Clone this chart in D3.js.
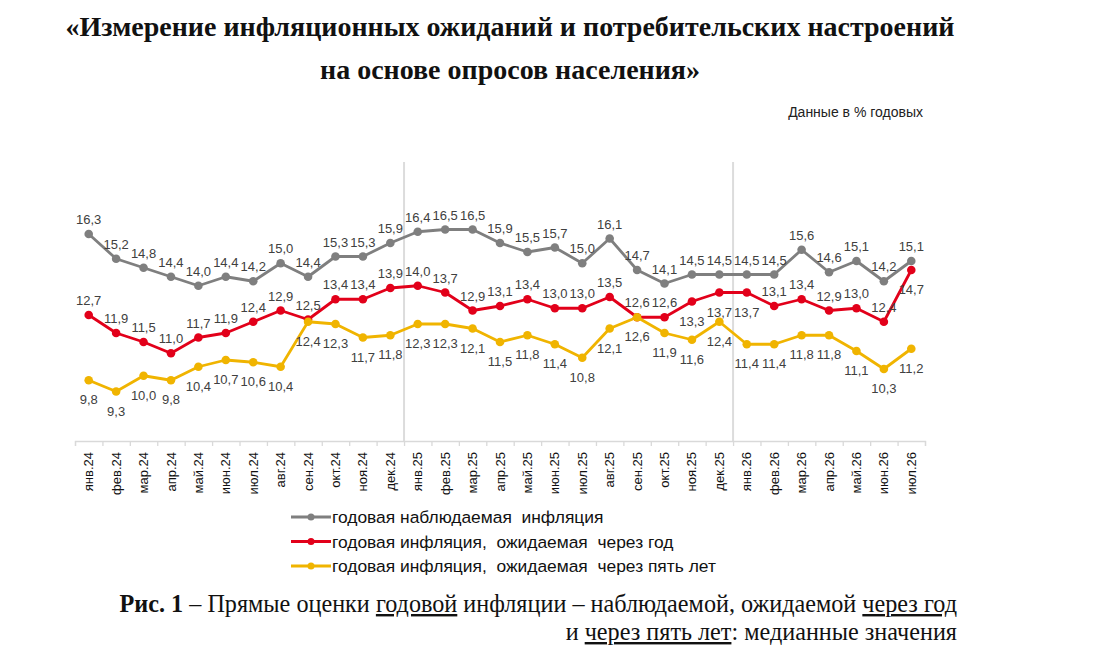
<!DOCTYPE html>
<html>
<head>
<meta charset="utf-8">
<script src="https://cdn.jsdelivr.net/npm/d3@7"></script>
<style>
body { margin: 0; background: #fff; }
</style>
</head>
<body>
<div class="holder"></div>
<script>
var months = ['янв.24','фев.24','мар.24','апр.24','май.24','июн.24','июл.24','авг.24','сен.24','окт.24','ноя.24','дек.24',
  'янв.25','фев.25','мар.25','апр.25','май.25','июн.25','июл.25','авг.25','сен.25','окт.25','ноя.25','дек.25',
  'янв.26','фев.26','мар.26','апр.26','май.26','июн.26','июл.26']

var observed = [16.3,15.2,14.8,14.4,14.0,14.4,14.2,15.0,14.4,15.3,15.3,15.9,16.4,16.5,16.5,15.9,15.5,15.7,15.0,16.1,14.7,14.1,14.5,14.5,14.5,14.5,15.6,14.6,15.1,14.2,15.1]
var oneYear = [12.7,11.9,11.5,11.0,11.7,11.9,12.4,12.9,12.5,13.4,13.4,13.9,14.0,13.7,12.9,13.1,13.4,13.0,13.0,13.5,12.6,12.6,13.3,13.7,13.7,13.1,13.4,12.9,13.0,12.4,14.7]
var fiveYears = [9.8,9.3,10.0,9.8,10.4,10.7,10.6,10.4,12.4,12.3,11.7,11.8,12.3,12.3,12.1,11.5,11.8,11.4,10.8,12.1,12.6,11.9,11.6,12.4,11.4,11.4,11.8,11.8,11.1,10.3,11.2]

// months where the red series label sits under the point
var oneYearBelow = ['ноя.25','дек.25','янв.26','июл.26']

var seriesNames = ['годовая наблюдаемая  инфляция', 'годовая инфляция,  ожидаемая  через год', 'годовая инфляция,  ожидаемая  через пять лет']
var colors = ['#7f7f7f', '#e2001a', '#f0b400']

var width = 1094, height = 658

var svg = d3.select('.holder').append('svg')
  .attr('width', width)
  .attr('height', height)
  .style('font-family', 'Arial, "Liberation Sans", sans-serif')

// title
var title = svg.append('text')
  .attr('text-anchor', 'middle')
  .style('font-family', '"Liberation Serif", "Times New Roman", serif')
  .style('font-weight', 'bold')
  .style('font-size', '28px')
  .attr('fill', '#111')
title.append('tspan').attr('x', 510).attr('y', 36).text('«Измерение инфляционных ожиданий и потребительских настроений')
title.append('tspan').attr('x', 510).attr('y', 79).text('на основе опросов населения»')

svg.append('text')
  .attr('x', 923).attr('y', 117)
  .attr('text-anchor', 'end')
  .style('font-size', '14px')
  .attr('fill', '#222')
  .text('Данные в % годовых')

var x = d3.scaleBand()
  .domain(months)
  .range([75, 925])
  .padding(0)

var xb = d3.scaleLinear()
  .domain([0, months.length])
  .range([75, 925])

var y = d3.scaleLinear()
  .domain([7.1, 19.5])
  .range([441, 162])

function cx(m) { return x(m) + x.bandwidth() / 2 }

// year separators
svg.selectAll('.sep')
  .data(['янв.25', 'янв.26'])
  .enter().append('line')
  .attr('x1', function(d) { return x(d) })
  .attr('x2', function(d) { return x(d) })
  .attr('y1', y.range()[1])
  .attr('y2', y.range()[0])
  .attr('stroke', '#dcdcdc')
  .attr('stroke-width', 2)

// axis with ticks between months
var axisG = svg.append('g')
  .attr('transform', 'translate(0,' + y.range()[0] + ')')
  .call(d3.axisBottom(xb).tickValues(d3.range(months.length + 1)).tickSize(5).tickFormat(''))
axisG.selectAll('path, line').attr('stroke', '#d9d9d9').attr('stroke-width', 1.3)

var labG = svg.append('g')
  .attr('transform', 'translate(0,' + y.range()[0] + ')')
  .call(d3.axisBottom(x).tickSize(0))
labG.select('.domain').remove()
labG.selectAll('text')
  .attr('transform', 'rotate(-90)')
  .attr('x', -11)
  .attr('y', 0)
  .attr('dy', '0.35em')
  .style('text-anchor', 'end')
  .style('font-size', '13px')
  .style('font-family', 'Arial, "Liberation Sans", sans-serif')
  .attr('fill', '#111')

var allSeries = [observed, oneYear, fiveYears]

var line = d3.line()
  .x(function(d, i) { return cx(months[i]) })
  .y(function(d) { return y(d) })

allSeries.forEach(function(vals, s) {
  svg.append('path')
    .datum(vals)
    .attr('d', line)
    .attr('fill', 'none')
    .attr('stroke', colors[s])
    .attr('stroke-width', 2.8)
    .attr('stroke-linejoin', 'round')

  svg.selectAll('.dot' + s)
    .data(vals)
    .enter().append('circle')
    .attr('cx', function(d, i) { return cx(months[i]) })
    .attr('cy', function(d) { return y(d) })
    .attr('r', 4.3)
    .attr('fill', colors[s])
})

// data labels
allSeries.forEach(function(vals, s) {
  svg.selectAll('.lab' + s)
    .data(vals)
    .enter().append('text')
    .attr('x', function(d, i) { return cx(months[i]) })
    .attr('y', function(d, i) {
      var below = s === 2 || (s === 1 && oneYearBelow.indexOf(months[i]) >= 0)
      return below ? y(d) + 24 : y(d) - 10
    })
    .attr('text-anchor', 'middle')
    .style('font-size', '13px')
    .attr('fill', '#404040')
    .text(function(d) { return d.toFixed(1).replace('.', ',') })
})

// legend
var legend = svg.selectAll('.leg')
  .data(seriesNames)
  .enter().append('g')
  .attr('transform', function(d, i) { return 'translate(291,' + (517 + i * 24.5) + ')' })
legend.append('line')
  .attr('x1', 0).attr('x2', 40)
  .attr('stroke', function(d, i) { return colors[i] })
  .attr('stroke-width', 2.8)
legend.append('circle')
  .attr('cx', 20).attr('r', 3.5)
  .attr('fill', function(d, i) { return colors[i] })
legend.append('text')
  .attr('x', 41).attr('dy', '0.35em')
  .style('font-size', '17.4px')
  .style('white-space', 'pre')
  .attr('fill', '#111')
  .text(function(d) { return d })

// caption
var cap = svg.append('text')
  .attr('text-anchor', 'end')
  .style('font-family', '"Liberation Serif", "Times New Roman", serif')
  .style('font-size', '24.2px')
  .attr('fill', '#111')
var l1 = cap.append('tspan').attr('x', 957).attr('y', 612)
l1.append('tspan').style('font-weight', 'bold').text('Рис. 1')
l1.append('tspan').text(' – Прямые оценки ')
l1.append('tspan').style('text-decoration', 'underline').text('годовой')
l1.append('tspan').text(' инфляции – наблюдаемой, ожидаемой ')
l1.append('tspan').style('text-decoration', 'underline').text('через год')
var l2 = cap.append('tspan').attr('x', 957).attr('y', 640)
l2.append('tspan').text('и ')
l2.append('tspan').style('text-decoration', 'underline').text('через пять лет')
l2.append('tspan').text(': медианные значения')
</script>
</body>
</html>
